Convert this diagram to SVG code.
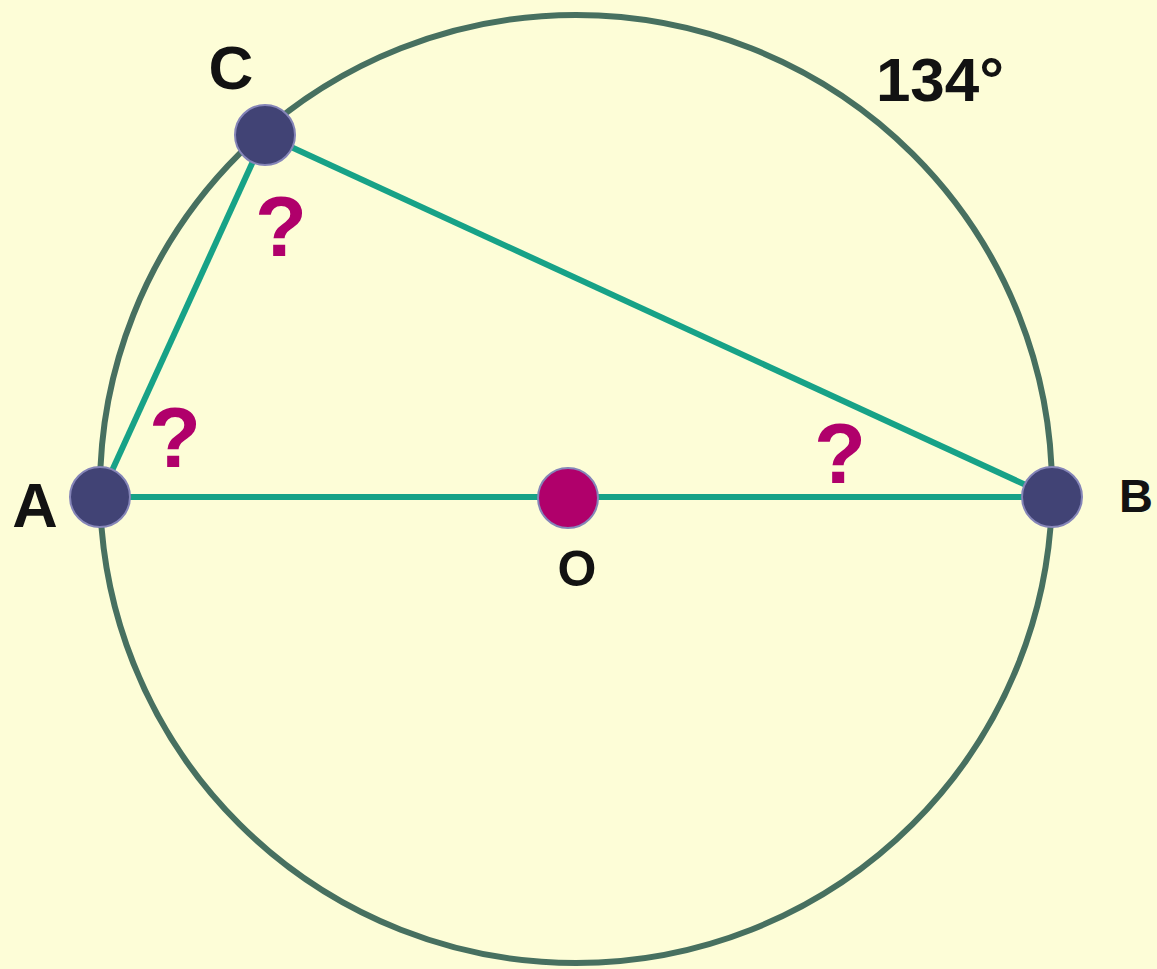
<svg xmlns="http://www.w3.org/2000/svg" width="1157" height="969" viewBox="0 0 1157 969">
<style>
.seg{stroke:#17a287;stroke-width:6;fill:none}
.pt{stroke:#8585b8;stroke-width:2}
.lbl{font-family:"Liberation Sans",Arial,sans-serif;font-weight:bold;fill:#121212;text-anchor:middle}
.q{font-family:"Liberation Sans",Arial,sans-serif;font-weight:bold;fill:#b0006b;text-anchor:middle;font-size:85px}
</style>
<rect width="1157" height="969" fill="#fdfdd7"/>
<g id="circle"><ellipse cx="576" cy="489" rx="476" ry="474" fill="none" stroke="#477060" stroke-width="6"/></g>
<g id="connectors">
<line class="seg" x1="100" y1="497" x2="1052" y2="497"/>
<line class="seg" x1="100" y1="497" x2="265" y2="135"/>
<line class="seg" x1="265" y1="135" x2="1052" y2="497"/>
</g>
<g id="A"><circle class="pt" cx="100" cy="497" r="30" fill="#414375"/><text class="lbl" x="35" y="527" font-size="63">A</text></g>
<g id="B"><circle class="pt" cx="1052" cy="497" r="30" fill="#414375"/><text class="lbl" x="1136" y="512" font-size="47">B</text></g>
<g id="C"><circle class="pt" cx="265" cy="135" r="30" fill="#414375"/><text class="lbl" x="231" y="89" font-size="62">C</text></g>
<g id="O"><circle class="pt" cx="568" cy="498" r="30" fill="#b0006b"/><text class="lbl" x="577" y="586" font-size="50">O</text></g>
<g id="angles">
<text class="q" x="281" y="256">?</text>
<text class="q" x="175" y="467">?</text>
<text class="q" x="840" y="483">?</text>
<text class="lbl" x="940" y="101" font-size="62">134°</text>
</g>
</svg>
